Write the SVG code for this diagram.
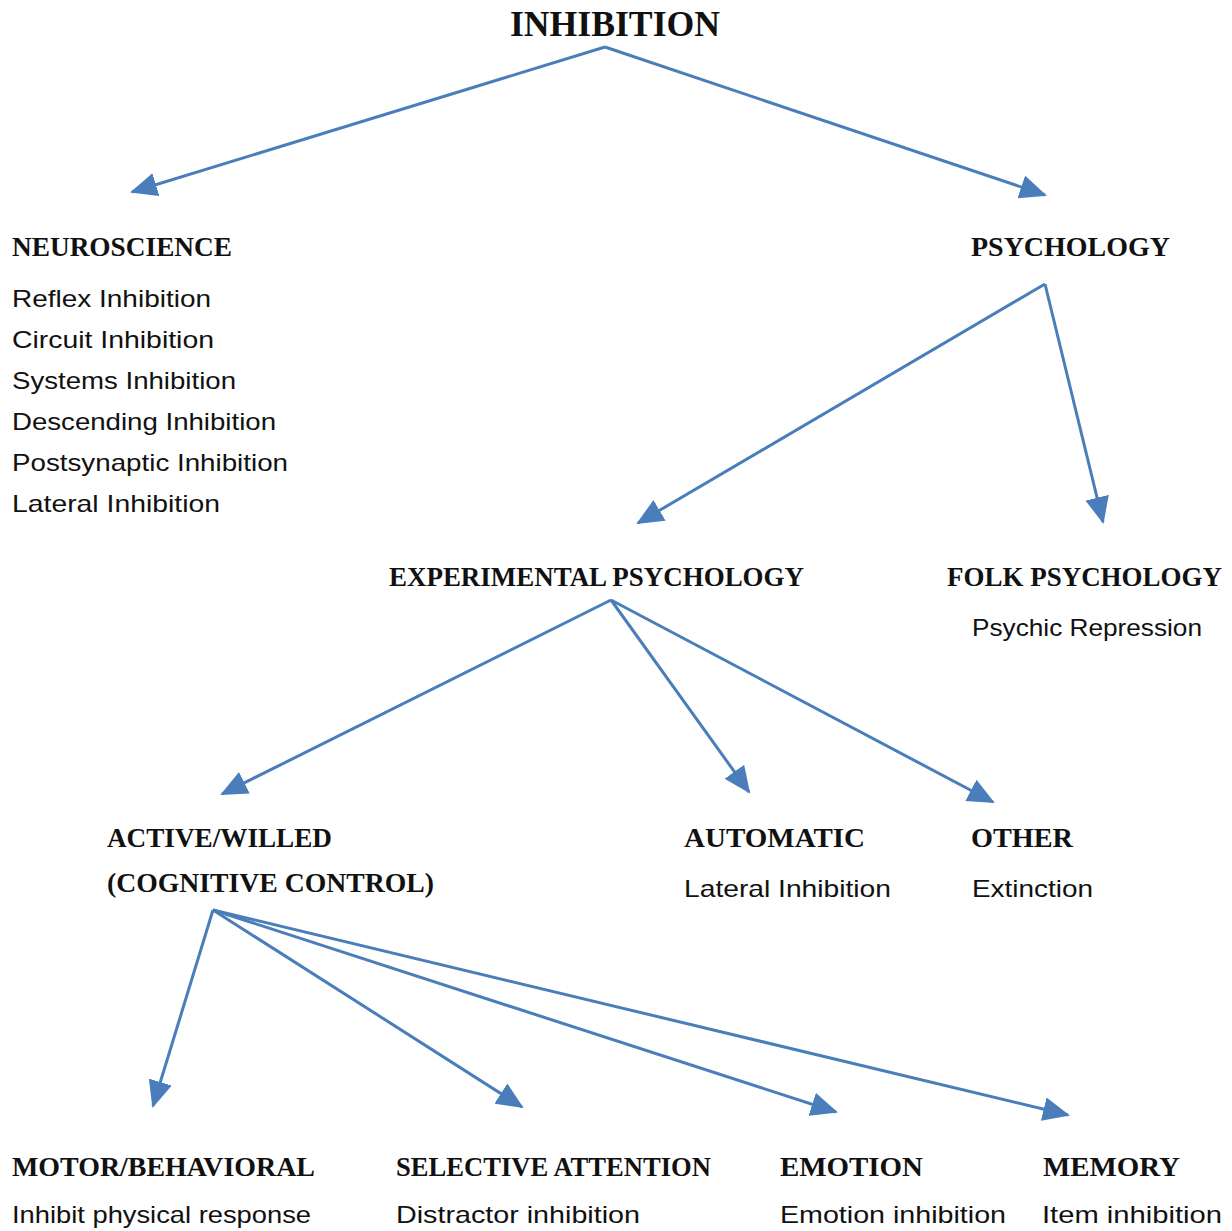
<svg xmlns="http://www.w3.org/2000/svg" width="1232" height="1231" viewBox="0 0 1232 1231">
<defs>
<style>
.h{font-family:"Liberation Serif","Times New Roman",serif;font-weight:bold;font-size:28px;fill:#111}
.t{font-family:"Liberation Sans",Arial,sans-serif;font-size:24px;fill:#111}
.c line{stroke:#4A7EBB;stroke-width:3;fill:none;marker-end:url(#ah)}
</style>
<marker id="ah" markerUnits="userSpaceOnUse" markerWidth="27" markerHeight="24" viewBox="0 0 27 24" refX="25" refY="12" orient="auto">
<path d="M0,0 L27,12 L0,24 z" fill="#4A7EBB"/>
</marker>
</defs>
<rect width="1232" height="1231" fill="#fff"/>
<g class="c" id="connectors">
<line x1="605" y1="47" x2="132" y2="192"/>
<line x1="605" y1="47" x2="1045" y2="195"/>
<line x1="1045" y1="284" x2="638" y2="523"/>
<line x1="1045" y1="284" x2="1103" y2="522"/>
<line x1="611" y1="600" x2="222" y2="794"/>
<line x1="611" y1="600" x2="749" y2="792"/>
<line x1="611" y1="600" x2="993" y2="802"/>
<line x1="213" y1="910" x2="153" y2="1106"/>
<line x1="213" y1="910" x2="522" y2="1107"/>
<line x1="213" y1="910" x2="836" y2="1112"/>
<line x1="213" y1="910" x2="1068" y2="1115"/>
</g>
<g id="inhibition"><text class="h" x="510" y="36" style="font-size:35px" textLength="210" lengthAdjust="spacingAndGlyphs">INHIBITION</text></g>
<g id="neuroscience">
<text class="h" x="12" y="256" textLength="220" lengthAdjust="spacingAndGlyphs">NEUROSCIENCE</text>
<text class="t" x="12" y="307" textLength="199" lengthAdjust="spacingAndGlyphs">Reflex Inhibition</text>
<text class="t" x="12" y="348" textLength="202" lengthAdjust="spacingAndGlyphs">Circuit Inhibition</text>
<text class="t" x="12" y="389" textLength="224" lengthAdjust="spacingAndGlyphs">Systems Inhibition</text>
<text class="t" x="12" y="430" textLength="264" lengthAdjust="spacingAndGlyphs">Descending Inhibition</text>
<text class="t" x="12" y="471" textLength="276" lengthAdjust="spacingAndGlyphs">Postsynaptic Inhibition</text>
<text class="t" x="12" y="512" textLength="208" lengthAdjust="spacingAndGlyphs">Lateral Inhibition</text>
</g>
<g id="psychology"><text class="h" x="971" y="256" textLength="199" lengthAdjust="spacingAndGlyphs">PSYCHOLOGY</text></g>
<g id="experimental"><text class="h" x="389" y="586" textLength="415" lengthAdjust="spacingAndGlyphs">EXPERIMENTAL PSYCHOLOGY</text></g>
<g id="folk">
<text class="h" x="947" y="586" textLength="275" lengthAdjust="spacingAndGlyphs">FOLK PSYCHOLOGY</text>
<text class="t" x="972" y="636" textLength="230" lengthAdjust="spacingAndGlyphs">Psychic Repression</text>
</g>
<g id="active">
<text class="h" x="107" y="847" textLength="225" lengthAdjust="spacingAndGlyphs">ACTIVE/WILLED</text>
<text class="h" x="107" y="892" textLength="327" lengthAdjust="spacingAndGlyphs">(COGNITIVE CONTROL)</text>
</g>
<g id="automatic">
<text class="h" x="684" y="847" textLength="181" lengthAdjust="spacingAndGlyphs">AUTOMATIC</text>
<text class="t" x="684" y="897" textLength="207" lengthAdjust="spacingAndGlyphs">Lateral Inhibition</text>
</g>
<g id="other">
<text class="h" x="971" y="847" textLength="102" lengthAdjust="spacingAndGlyphs">OTHER</text>
<text class="t" x="972" y="897" textLength="121" lengthAdjust="spacingAndGlyphs">Extinction</text>
</g>
<g id="motor">
<text class="h" x="12" y="1176" textLength="303" lengthAdjust="spacingAndGlyphs">MOTOR/BEHAVIORAL</text>
<text class="t" x="12" y="1223" textLength="299" lengthAdjust="spacingAndGlyphs">Inhibit physical response</text>
</g>
<g id="selective">
<text class="h" x="396" y="1176" textLength="315" lengthAdjust="spacingAndGlyphs">SELECTIVE ATTENTION</text>
<text class="t" x="396" y="1223" textLength="244" lengthAdjust="spacingAndGlyphs">Distractor inhibition</text>
</g>
<g id="emotion">
<text class="h" x="780" y="1176" textLength="143" lengthAdjust="spacingAndGlyphs">EMOTION</text>
<text class="t" x="780" y="1223" textLength="226" lengthAdjust="spacingAndGlyphs">Emotion inhibition</text>
</g>
<g id="memory">
<text class="h" x="1043" y="1176" textLength="137" lengthAdjust="spacingAndGlyphs">MEMORY</text>
<text class="t" x="1042" y="1223" textLength="180" lengthAdjust="spacingAndGlyphs">Item inhibition</text>
</g>
</svg>
